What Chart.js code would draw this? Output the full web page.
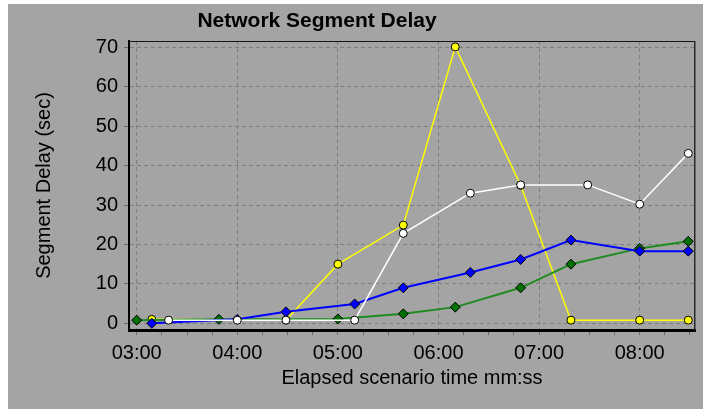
<!DOCTYPE html>
<html><head><meta charset="utf-8">
<script src="https://cdn.jsdelivr.net/npm/chart.js@4/dist/chart.umd.min.js"></script>
<style>
html,body{margin:0;padding:0;background:#fff;width:703px;height:409px;overflow:hidden}
#c{position:absolute;left:8px;top:4px;background:#a4a4a4}
</style></head><body>
<canvas id="c" width="695" height="405"></canvas>
<script>
const chartTitle = 'Network Segment Delay';
const xAxisTitle = 'Elapsed scenario time mm:ss';
const yAxisTitle = 'Segment Delay (sec)';
const xTickLabels = ['03:00','04:00','05:00','06:00','07:00','08:00'];
const yTickValues = [0,10,20,30,40,50,60,70];

const whiteTimes  = ['03:19','04:00','04:29','05:10','05:39','06:19','06:49','07:29','08:00','08:29'];
const whiteValues = [0.8, 0.8, 0.8, 0.8, 22.8, 33.0, 35.1, 35.1, 30.2, 43.1];

const blueTimes  = ['03:09','04:00','04:29','05:10','05:39','06:19','06:49','07:19','08:00','08:29'];
const blueValues = [0.0, 1.0, 2.9, 4.9, 9.0, 12.9, 16.2, 21.1, 18.3, 18.3];

const greenTimes  = ['03:00','03:49','05:00','05:39','06:10','06:49','07:19','08:00','08:29'];
const greenValues = [0.8, 1.0, 1.1, 2.4, 4.1, 9.0, 15.0, 19.0, 20.8];

const yellowTimes  = ['03:09','04:29','05:00','05:39','06:10','06:49','07:19','08:00','08:29'];
const yellowValues = [1.0, 0.8, 15.0, 24.9, 70.1, 35.0, 0.8, 0.8, 0.8];

function toSec(t){ const p = t.split(':').map(Number); return p[0]*60 + p[1]; }
function pts(times, vals){ return times.map((t,i)=>({x: toSec(t), y: vals[i]})); }
const xMajor = xTickLabels.map(toSec);

const FONT = '"Liberation Sans", Arial, sans-serif';

const framePlugin = {
  id: 'frameAndTitle',
  beforeDatasetsDraw(chart){
    const ctx = chart.ctx, a = chart.chartArea;
    ctx.save();
    ctx.strokeStyle = '#151515'; ctx.lineWidth = 1;
    ctx.beginPath(); ctx.moveTo(a.left, a.top + 0.5); ctx.lineTo(a.right, a.top + 0.5); ctx.stroke();
    ctx.strokeStyle = '#2a2a2a'; ctx.lineWidth = 1.5;
    ctx.beginPath(); ctx.moveTo(a.right - 0.25, a.top); ctx.lineTo(a.right - 0.25, a.bottom); ctx.stroke();
    ctx.restore();
  },
  afterDraw(chart){
    const ctx = chart.ctx;
    ctx.save();
    ctx.font = 'bold 21px ' + FONT;
    ctx.fillStyle = '#000';
    ctx.textAlign = 'center';
    ctx.textBaseline = 'middle';
    ctx.fillText(chartTitle, 309, 17);
    ctx.restore();
  }
};

function ds(label, data, line, fill, style, radius, width){
  return {label, data, borderColor: line, borderWidth: width, tension: 0, fill: false,
    pointStyle: style, pointRadius: radius, pointHoverRadius: radius,
    pointBackgroundColor: fill, pointBorderColor: '#000', pointBorderWidth: 1};
}

new Chart(document.getElementById('c'), {
  type: 'line',
  data: {
    datasets: [
      ds('white', pts(whiteTimes, whiteValues), '#ffffff', '#ffffff', 'circle', 4, 1.5),
      ds('blue', pts(blueTimes, blueValues), '#0000ff', '#0000ff', 'rectRot', 5, 2),
      ds('green', pts(greenTimes, greenValues), '#1f8a1f', '#007000', 'rectRot', 5, 2),
      ds('yellow', pts(yellowTimes, yellowValues), '#ffff00', '#ffff00', 'circle', 4, 1.5)
    ]
  },
  options: {
    responsive: false, animation: false,
    layout: {padding: {top: 37, right: 8, left: 0, bottom: 0}},
    plugins: {legend: {display: false}, tooltip: {enabled: false}, title: {display: false}},
    scales: {
      x: {
        type: 'linear', min: 175.4, max: 513,
        afterBuildTicks(s){
          const t = [];
          for (let v = xMajor[0]; v <= 510; v += 15) t.push({value: v});
          s.ticks = t;
        },
        afterFit(s){ s.height = 79; },
        ticks: {
          autoSkip: false, maxRotation: 0, minRotation: 0, padding: 6,
          color: '#000', font: {family: FONT, size: 20},
          callback: (v) => { const i = xMajor.indexOf(v); return i >= 0 ? xTickLabels[i] : ''; }
        },
        grid: {
          color: (c) => (c.tick && xMajor.includes(c.tick.value)) ? '#7e7e7e' : 'rgba(0,0,0,0)',
          tickColor: '#6a6a6a', tickLength: 5, lineWidth: 1
        },
        border: {display: true, color: '#000', width: 3, dash: [4,3]},
        title: {display: true, text: xAxisTitle, color: '#000', font: {family: FONT, size: 20}, padding: {top: 0, bottom: 19}}
      },
      y: {
        type: 'linear', min: -1.7, max: 71.6,
        afterBuildTicks(s){ s.ticks = yTickValues.map(v => ({value: v})); },
        afterFit(s){ s.width = 121; },
        ticks: {color: '#000', padding: 6, font: {family: FONT, size: 20}},
        grid: {color: '#7e7e7e', tickColor: '#6a6a6a', tickLength: 5, lineWidth: 1},
        border: {display: true, color: '#000', width: 2, dash: [4,3]},
        title: {display: true, text: yAxisTitle, color: '#000', font: {family: FONT, size: 20}, padding: {top: 24, bottom: 0}}
      }
    }
  },
  plugins: [framePlugin]
});
</script>
</body></html>
